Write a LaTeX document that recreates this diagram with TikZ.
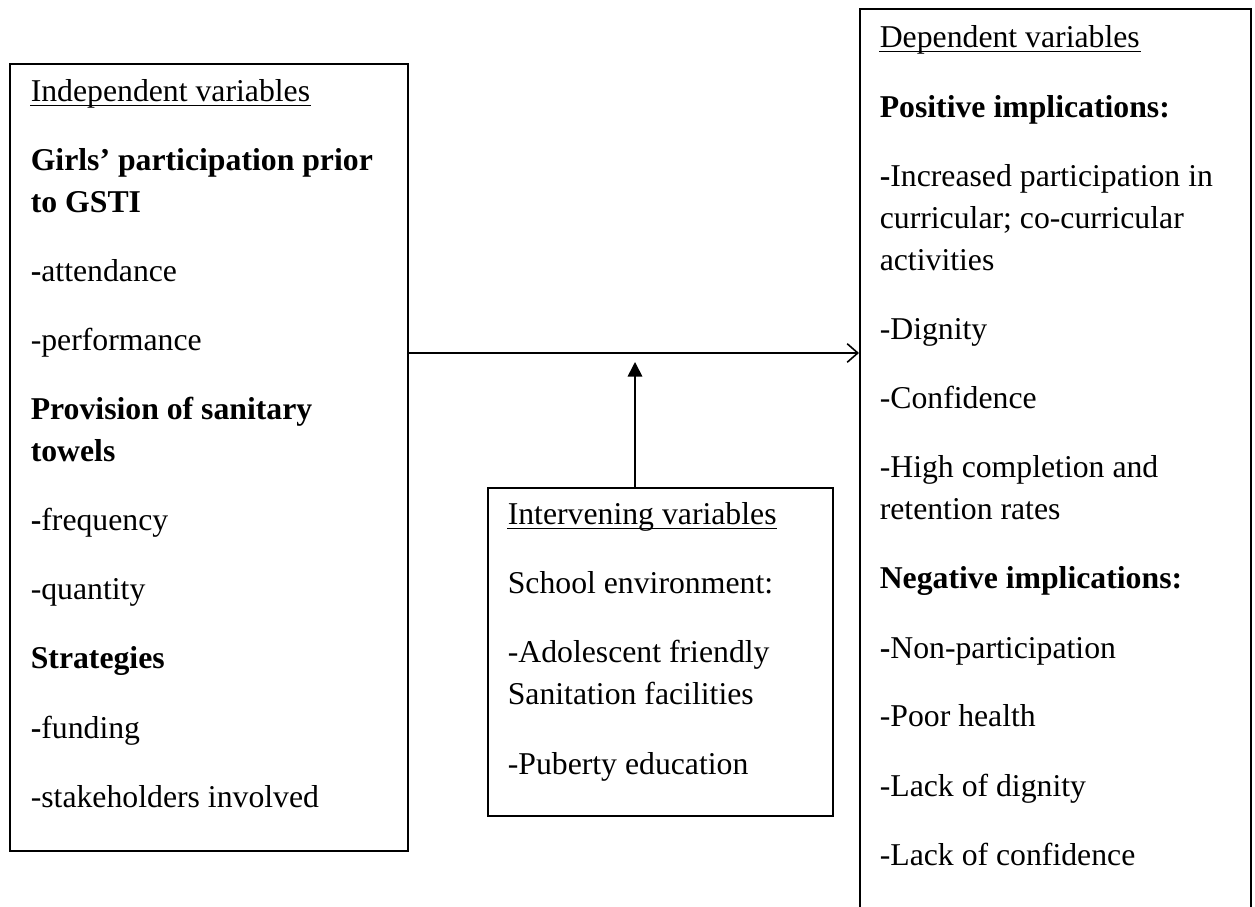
\documentclass[tikz,border=0pt]{standalone}
\usepackage{fontspec}
\setmainfont{Liberation Serif}
\usepackage{tikz}
\usetikzlibrary{arrows.meta,calc,positioning}
\tikzset{box/.style={draw, rectangle, line width=0.8pt, inner sep=0pt, anchor=north west}}
\tikzstyle{tx}=[anchor=base west, inner sep=0pt, font=\fontsize{12}{14}\selectfont]
\tikzstyle{ul}=[line width=0.5pt]

\begin{document}
\begin{tikzpicture}[x=0.3781pt, y=-0.3781pt, line width=0.6pt]
\useasboundingbox (0,0) rectangle (1255,907);
\node[box, minimum width=150.5pt, minimum height=297.6pt] (IV) at (9,63) {};
\node[box, minimum width=130.4pt, minimum height=124pt] (IB) at (487,487) {};
\node[box, minimum width=147.8pt, minimum height=350.5pt] (DV) at (859,8) {};

\node[tx] (L0) at (30,102) {Independent variables};
\node[tx] (L1) at (30,171) {\textbf{Girls’ participation prior}};
\node[tx] (L2) at (30,213) {\textbf{to GSTI}};
\node[tx] (L3) at (30,282) {\textbf{-}attendance};
\node[tx] (L4) at (30,351) {-performance};
\node[tx] (L5) at (30,420) {\textbf{Provision of sanitary}};
\node[tx] (L6) at (30,462) {\textbf{towels}};
\node[tx] (L7) at (30,531) {\textbf{-}frequency};
\node[tx] (L8) at (30,600) {-quantity};
\node[tx] (L9) at (30,669) {\textbf{Strategies}};
\node[tx] (L10) at (30,738) {\textbf{-}funding};
\node[tx] (L11) at (30,807) {-stakeholders involved};

\node[tx] (M0) at (507,525) {Intervening variables};
\node[tx] (M1) at (507,594) {School environment:};
\node[tx] (M2) at (507,663) {-Adolescent friendly};
\node[tx] (M3) at (507,705) {Sanitation facilities};
\node[tx] (M4) at (507,774) {-Puberty education};

\node[tx] (R0) at (879,48) {Dependent variables};
\node[tx] (R1) at (879,118) {\textbf{Positive implications:}};
\node[tx] (R2) at (879,187) {\textbf{-}Increased participation in};
\node[tx] (R3) at (879,229) {curricular; co-curricular};
\node[tx] (R4) at (879,271) {activities};
\node[tx] (R5) at (879,340) {-Dignity};
\node[tx] (R6) at (879,409) {-Confidence};
\node[tx] (R7) at (879,478) {-High completion and};
\node[tx] (R8) at (879,520) {retention rates};
\node[tx] (R9) at (879,589) {\textbf{Negative implications:}};
\node[tx] (R10) at (879,658) {\textbf{-}Non-participation};
\node[tx] (R11) at (879,727) {-Poor health};
\node[tx] (R12) at (879,796) {-Lack of dignity};
\node[tx] (R13) at (879,865) {-Lack of confidence};

\draw[ul] ([yshift=-1.3pt]L0.base west) -- ([yshift=-1.3pt]L0.base east);
\draw[ul] ([yshift=-1.3pt]M0.base west) -- ([yshift=-1.3pt]M0.base east);
\draw[ul] ([yshift=-1.3pt]R0.base west) -- ([yshift=-1.3pt]R0.base east);

\coordinate (J) at (635,353);
\coordinate (T) at (635,362);
\draw[-{Straight Barb[length=4pt,width=7pt]}] (IV.east |- J) -- (DV.west |- J);
\draw[-{Triangle[length=5.5pt,width=5.5pt]}] (IB.north -| T) -- (T);
\end{tikzpicture}
\end{document}
